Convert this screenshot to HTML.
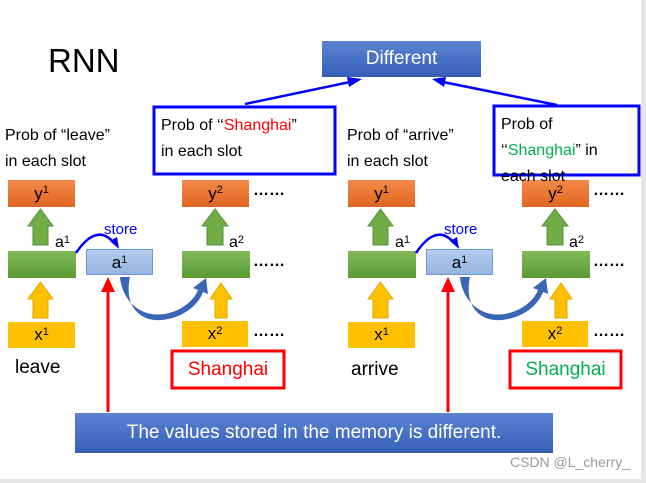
<!DOCTYPE html>
<html><head><meta charset="utf-8"><style>
html,body{margin:0;padding:0;background:#fff;}
body{width:646px;height:483px;position:relative;overflow:hidden;font-family:"Liberation Sans",sans-serif;color:#000;}
.a{position:absolute;}
.box{position:absolute;text-align:center;font-size:17px;}
.or{background:linear-gradient(#f4894a,#e0661f);}
.gr{background:linear-gradient(#7fba55,#5d9a36);}
.ye{background:#ffc000;}
.lb{background:linear-gradient(#b5cdee,#94b5e2);border:1px solid #6f97d6;box-sizing:border-box;}
.bl{background:linear-gradient(#5b83d2,#3560b8);color:#fff;}
sup{font-size:11px;vertical-align:top;position:relative;top:-3px;}
.t{position:absolute;font-size:16px;white-space:nowrap;line-height:26px;}
.dots{position:absolute;font-size:16px;font-weight:bold;}
svg{position:absolute;left:0;top:0;}
</style></head><body>

<!-- column 1 -->
<div class="box or" style="left:8px;top:180px;width:67px;height:27px;line-height:27px;">y<sup>1</sup></div>
<div class="box gr" style="left:8px;top:251px;width:68px;height:27px;"></div>
<div class="t" style="left:55px;top:230px;">a<sup>1</sup></div>
<div class="box ye" style="left:8px;top:322px;width:67px;height:26px;line-height:26px;">x<sup>1</sup></div>
<div class="box lb" style="left:86px;top:249px;width:67px;height:26px;line-height:26px;">a<sup>1</sup></div>
<div class="t" style="left:104px;top:217px;font-size:15px;color:#0000ff;">store</div>
<div class="box or" style="left:182px;top:180px;width:67px;height:27px;line-height:27px;">y<sup>2</sup></div>
<div class="box gr" style="left:182px;top:251px;width:68px;height:27px;"></div>
<div class="t" style="left:229px;top:230px;">a<sup>2</sup></div>
<div class="box ye" style="left:182px;top:321px;width:66px;height:26px;line-height:26px;">x<sup>2</sup></div>
<div class="dots" style="left:253px;top:182px;">……</div>
<div class="dots" style="left:253px;top:253px;">……</div>
<div class="dots" style="left:253px;top:323px;">……</div>

<!-- column 2 -->
<div class="box or" style="left:348px;top:180px;width:67px;height:27px;line-height:27px;">y<sup>1</sup></div>
<div class="box gr" style="left:348px;top:251px;width:68px;height:27px;"></div>
<div class="t" style="left:395px;top:230px;">a<sup>1</sup></div>
<div class="box ye" style="left:348px;top:322px;width:67px;height:26px;line-height:26px;">x<sup>1</sup></div>
<div class="box lb" style="left:426px;top:249px;width:67px;height:26px;line-height:26px;">a<sup>1</sup></div>
<div class="t" style="left:444px;top:217px;font-size:15px;color:#0000ff;">store</div>
<div class="box or" style="left:522px;top:180px;width:67px;height:27px;line-height:27px;">y<sup>2</sup></div>
<div class="box gr" style="left:522px;top:251px;width:68px;height:27px;"></div>
<div class="t" style="left:569px;top:230px;">a<sup>2</sup></div>
<div class="box ye" style="left:522px;top:321px;width:66px;height:26px;line-height:26px;">x<sup>2</sup></div>
<div class="dots" style="left:593px;top:182px;">……</div>
<div class="dots" style="left:593px;top:253px;">……</div>
<div class="dots" style="left:593px;top:323px;">……</div>

<svg width="646" height="483" viewBox="0 0 646 483">
 <!-- col1 arrows -->
 <path d="M33,245 V226 H28 L40.5,209 L53,226 H48 V245 z" fill="#70ad47" stroke="#5a8f38"/>
 <path d="M33,318 V299 H28 L40.5,282 L53,299 H48 V318 z" fill="#ffc000" stroke="#e0a800"/>
 <path d="M207,245 V226 H202 L215,209 L228,226 H223 V245 z" fill="#70ad47" stroke="#5a8f38"/>
 <path d="M215,318 V299 H210 L221,283 L232,299 H227 V318 z" fill="#ffc000" stroke="#e0a800"/>
 <path d="M76,253 C86,238 100,226 114,243" fill="none" stroke="#0000ff" stroke-width="2.5"/>
 <path d="M110,241 L119,249 L117,237 z" fill="#0000ff"/>
 <path d="M120,277 C122,300 140,318 165,314 C185,310 195,298 198,290 L193,288 L206,278 L208,294 L203,292 C198,306 182,318 162,320 C138,322 124,304 130,277 z" fill="#3b66b5"/>
 <line x1="108" y1="412" x2="108" y2="290" stroke="#ff0000" stroke-width="3"/>
 <path d="M101,292 L108,277 L115,292 z" fill="#ff0000"/>
 <!-- col2 arrows -->
 <path d="M373,245 V226 H368 L380.5,209 L393,226 H388 V245 z" fill="#70ad47" stroke="#5a8f38"/>
 <path d="M373,318 V299 H368 L380.5,282 L393,299 H388 V318 z" fill="#ffc000" stroke="#e0a800"/>
 <path d="M547,245 V226 H542 L555,209 L568,226 H563 V245 z" fill="#70ad47" stroke="#5a8f38"/>
 <path d="M555,318 V299 H550 L561,283 L572,299 H567 V318 z" fill="#ffc000" stroke="#e0a800"/>
 <path d="M416,253 C426,238 440,226 454,243" fill="none" stroke="#0000ff" stroke-width="2.5"/>
 <path d="M450,241 L459,249 L457,237 z" fill="#0000ff"/>
 <path d="M460,277 C462,300 480,318 505,314 C525,310 535,298 538,290 L533,288 L546,278 L548,294 L543,292 C538,306 522,318 502,320 C478,322 464,304 470,277 z" fill="#3b66b5"/>
 <line x1="448" y1="412" x2="448" y2="290" stroke="#ff0000" stroke-width="3"/>
 <path d="M441,292 L448,277 L455,292 z" fill="#ff0000"/>
 <!-- top arrows -->
 <line x1="245" y1="104" x2="350" y2="82" stroke="#0000ff" stroke-width="2.5"/>
 <path d="M347,77 L362,79 L349,87 z" fill="#0000ff"/>
 <line x1="557" y1="105" x2="443" y2="82" stroke="#0000ff" stroke-width="2.5"/>
 <path d="M446,77 L432,79 L444,87 z" fill="#0000ff"/>
 <!-- boxes -->
 <rect x="154" y="107" width="181" height="67" fill="none" stroke="#0000ff" stroke-width="3"/>
 <rect x="494" y="106" width="145" height="69" fill="none" stroke="#0000ff" stroke-width="3"/>
 <rect x="172" y="351" width="112" height="37" fill="none" stroke="#ff0000" stroke-width="3"/>
 <rect x="510" y="351" width="111" height="37" fill="none" stroke="#ff0000" stroke-width="3"/>
</svg>

<div class="a" style="left:48px;top:42px;font-size:33px;">RNN</div>
<div class="box bl" style="left:322px;top:41px;width:159px;height:36px;line-height:36px;font-size:19px;">Different</div>
<div class="t" style="left:5px;top:123px;">Prob of “leave”<br>in each slot</div>
<div class="t" style="left:161px;top:113px;">Prob of ‘‘<span style="color:#ff0000">Shanghai</span>”<br>in each slot</div>
<div class="t" style="left:347px;top:123px;">Prob of “arrive”<br>in each slot</div>
<div class="t" style="left:501px;top:112px;">Prob of<br>‘‘<span style="color:#00b050">Shanghai</span>” in<br>each slot</div>
<div class="a" style="left:15px;top:357px;font-size:19px;">leave</div>
<div class="a" style="left:351px;top:359px;font-size:19px;">arrive</div>
<div class="a" style="left:172px;top:351px;width:112px;height:37px;line-height:37px;text-align:center;font-size:19px;color:#ff0000;">Shanghai</div>
<div class="a" style="left:510px;top:351px;width:111px;height:37px;line-height:37px;text-align:center;font-size:19px;color:#00b050;">Shanghai</div>
<div class="box bl" style="left:75px;top:413px;width:478px;height:40px;line-height:40px;font-size:19px;">The values stored in the memory is different.</div>
<div class="a" style="left:470px;top:454px;width:160px;text-align:right;font-size:14px;color:#9a9a9a;">CSDN @L_cherry_</div>
<div class="a" style="left:0;top:479px;width:646px;height:4px;background:#e6e6e6;"></div>
<div class="a" style="left:641px;top:0;width:5px;height:483px;background:#e6e6e6;"></div>
</body></html>
